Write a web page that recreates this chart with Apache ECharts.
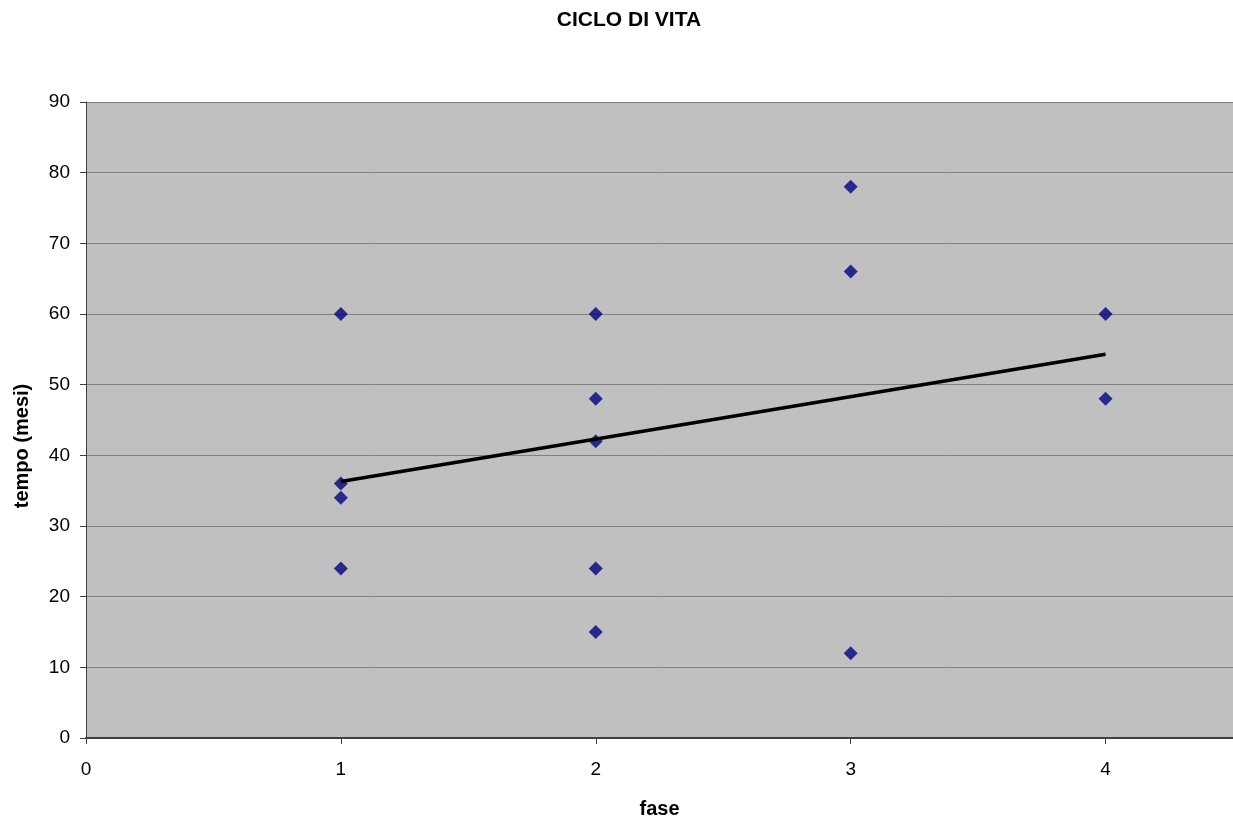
<!DOCTYPE html>
<html>
<head>
<meta charset="utf-8">
<script src="https://cdn.jsdelivr.net/npm/echarts@6/dist/echarts.min.js"></script>
<style>html,body{margin:0;padding:0;background:#fff;overflow:hidden}#c{width:1233px;height:824px}</style>
</head>
<body>
<div id="c"></div>
<script>
const chartTitle = 'CICLO DI VITA';
const xName = 'fase';
const yName = 'tempo (mesi)';
const faseValues = [1, 1, 1, 1, 2, 2, 2, 2, 2, 3, 3, 3, 4, 4];
const tempoValues = [60, 36, 34, 24, 60, 48, 42, 24, 15, 78, 66, 12, 60, 48];
const trendX = [1, 4];
const trendY = [36.3, 54.3];
const xTicks = [0, 1, 2, 3, 4];
const yTicks = [0, 10, 20, 30, 40, 50, 60, 70, 80, 90];

const points = faseValues.map((x, i) => [x, tempoValues[i]]);
const trend = trendX.map((x, i) => [x, trendY[i]]);
const font = 'Liberation Sans, Arial, sans-serif';

const chart = echarts.init(document.getElementById('c'));
chart.setOption({
  animation: false,
  title: {
    text: chartTitle, left: 624, textAlign: 'center', top: 5,
    textStyle: { fontFamily: font, fontSize: 21, fontWeight: 'bold', color: '#000' }
  },
  graphic: [{
    type: 'text', x: 22, y: 446, rotation: Math.PI / 2,
    style: {
      text: yName, fontFamily: font, fontSize: 20, fontWeight: 'bold', fill: '#000',
      align: 'center', verticalAlign: 'middle'
    }
  }],
  grid: {
    left: 86, top: 102, bottom: 82, right: -3,
    show: true, backgroundColor: '#C0C0C0', borderWidth: 0
  },
  xAxis: {
    type: 'value', min: 0, max: 4.5, interval: 1,
    name: xName, nameLocation: 'middle', nameGap: 61,
    nameTextStyle: { fontFamily: font, fontSize: 20, fontWeight: 'bold', color: '#000' },
    axisLine: { show: true, onZero: false, lineStyle: { color: '#404040', width: 2 } },
    axisTick: { show: true, length: 6, lineStyle: { color: '#404040' }, customValues: xTicks },
    axisLabel: { fontFamily: font, fontSize: 19, color: '#000', margin: 22, customValues: xTicks },
    splitLine: { show: false }
  },
  yAxis: {
    type: 'value', min: 0, max: 90, interval: 10,
    axisLine: { show: true, onZero: false, lineStyle: { color: '#404040', width: 1 } },
    axisTick: { show: true, length: 6, lineStyle: { color: '#404040' } },
    axisLabel: { fontFamily: font, fontSize: 19, color: '#000', margin: 16 },
    splitLine: { show: true, lineStyle: { color: '#808080', width: 1 } }
  },
  series: [
    {
      type: 'scatter', data: points, symbol: 'diamond', symbolSize: 14,
      itemStyle: { color: '#000080' }, z: 3
    },
    {
      type: 'line', data: trend, showSymbol: false, symbol: 'none',
      lineStyle: { color: '#000', width: 3.5 }, z: 4
    }
  ]
});
</script>
</body>
</html>
